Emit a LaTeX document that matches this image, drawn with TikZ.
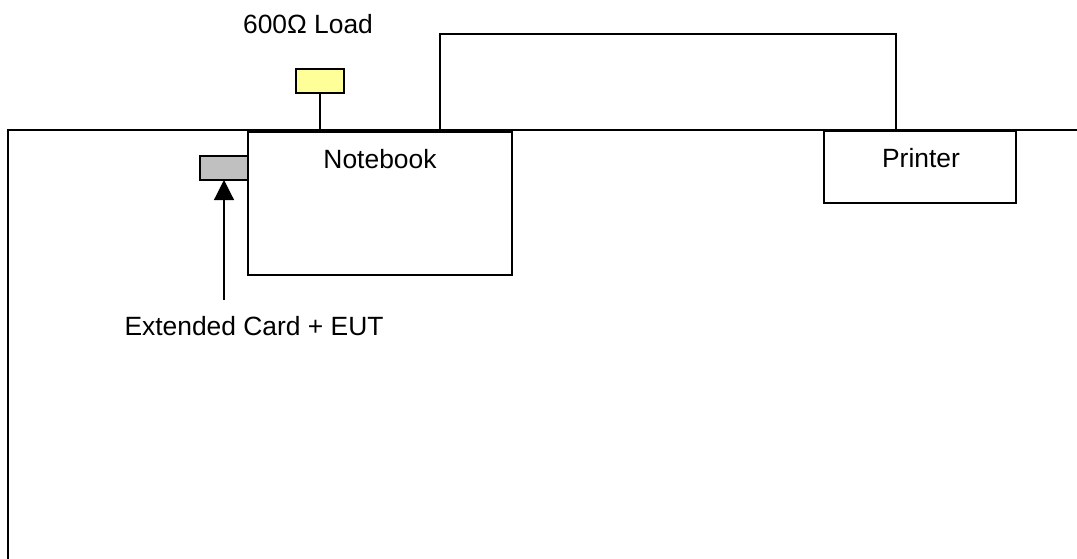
\documentclass[tikz,border=0pt]{standalone}
\usepackage{fontspec}
\setmainfont{Liberation Sans}
\usetikzlibrary{arrows.meta}
\definecolor{loadyellow}{HTML}{FFFF99}
\definecolor{cardgray}{HTML}{C0C0C0}
\begin{document}
\begin{tikzpicture}[x=1pt,y=-1pt,line width=1.2pt,
  box/.style={draw,rectangle,inner sep=0pt,outer sep=0pt},
  lbl/.style={inner sep=0pt,anchor=base,font=\fontsize{26.4}{30}\selectfont}]
\useasboundingbox (0,0) rectangle (1077,558);
% table
\coordinate (tr) at (1077,130);
\coordinate (tl) at (8,130);
\coordinate (bl) at (8,560);
\draw (tr) -- (tl) -- (bl);
% boxes
\node[box,fill=white,minimum width=264pt,minimum height=143pt] (nb) at (380,203.5) {};
\node[box,fill=white,minimum width=192pt,minimum height=72pt] (pr) at (920,167) {};
\node[box,fill=loadyellow,minimum width=48pt,minimum height=24pt] (load) at (320,81) {};
\node[box,fill=cardgray,minimum width=48pt,minimum height=24pt] (card) at (224,168) {};
% labels
\node[lbl] (nbt) at (380,168) {Notebook};
\node[lbl] (prt) at (921,167) {Printer};
\node[lbl] (loadt) at (308,33) {600Ω Load};
\node[lbl] (cardt) at (254,335) {Extended Card + EUT};
% connectors
\draw (load.south) -- (load.south |- tl);
\coordinate (cx) at (440,34);
\coordinate (cy) at (896,34);
\draw (nb.north -| cx) -- (cx) -- (cy) -- (pr.north -| cy);
\coordinate (as) at (224,300);
\draw[-{Triangle[length=20pt,width=20pt]}] (as) -- (card.south);
\end{tikzpicture}
\end{document}
